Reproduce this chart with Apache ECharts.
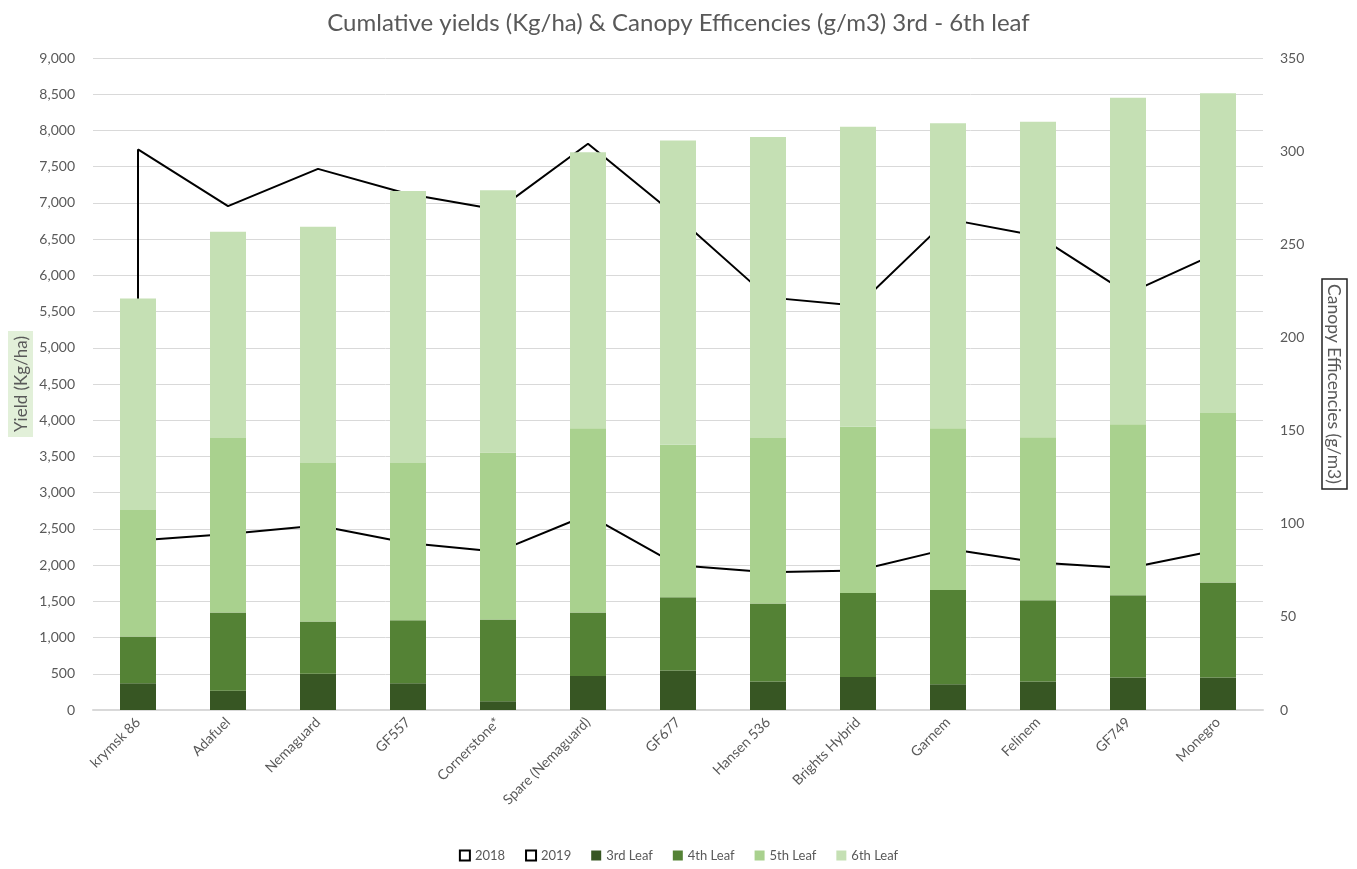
<!DOCTYPE html>
<html>
<head>
<meta charset="utf-8">
<script src="https://cdn.jsdelivr.net/npm/echarts@6/dist/echarts.min.js"></script>
<style>html,body{margin:0;padding:0;background:#fff;}#c{width:1357px;height:869px;}</style>
</head>
<body>
<div id="c"></div>
<script>
const categories = ['krymsk 86','Adafuel','Nemaguard','GF557','Cornerstone*','Spare (Nemaguard)','GF677','Hansen 536','Brights Hybrid','Garnem','Felinem','GF749','Monegro'];
const leaf3 = [370, 265, 500, 370, 120, 468, 545, 395, 455, 355, 395, 450, 450];
const leaf4 = [645, 1080, 720, 870, 1130, 877, 1010, 1075, 1160, 1300, 1120, 1135, 1310];
const leaf5 = [1745, 2410, 2190, 2170, 2305, 2545, 2105, 2285, 2295, 2235, 2250, 2360, 2340];
const leaf6 = [2920, 2845, 3260, 3755, 3620, 3810, 4200, 4155, 4140, 4210, 4355, 4505, 4415];
const eff2018 = [301, 270.5, 290.5, 277, 268.5, 304, 264.5, 221.5, 217, 263.5, 254.5, 223.5, 245.5];
const eff2019 = [91, 94.5, 99, 89.7, 85, 104.8, 77.7, 73.9, 74.9, 86.5, 79.2, 76.1, 85.9];
const yieldTicks = {min: 0, max: 9000, interval: 500};
const effTicks = {min: 0, max: 350, interval: 50};

const FONT = 'Lato, "Open Sans", sans-serif';
const TXT = '#595959';
const chart = echarts.init(document.getElementById('c'), null, {renderer: 'canvas'});

function barSeries(name, data, color) {
  return {name, type: 'bar', stack: 'y', data, barWidth: 36, z: 3,
    itemStyle: {color}, emphasis: {disabled: true}};
}
function lineSeries(name, data, extra) {
  return Object.assign({name, type: 'line', yAxisIndex: 1, data, z: 1, symbol: 'none', showSymbol: false,
    lineStyle: {color: '#000', width: 2}, itemStyle: {color: '#fff', borderColor: '#000'},
    emphasis: {disabled: true}}, extra || {});
}

chart.setOption({
  animation: false,
  textStyle: {fontFamily: FONT},
  title: {text: 'Cumlative yields (Kg/ha) & Canopy Efficencies (g/m3) 3rd - 6th leaf', left: 'center', top: 6,
    textStyle: {fontFamily: FONT, fontSize: 24, fontWeight: 'normal', color: TXT}},
  legend: {bottom: 2, left: 'center', itemWidth: 10, itemHeight: 10, itemGap: 20,
    textStyle: {fontFamily: FONT, fontSize: 13, color: TXT},
    data: [
      {name: '2018', icon: 'rect', itemStyle: {color: '#fff', borderColor: '#000', borderWidth: 2}},
      {name: '2019', icon: 'rect', itemStyle: {color: '#fff', borderColor: '#000', borderWidth: 2}},
      {name: '3rd Leaf', icon: 'rect'}, {name: '4th Leaf', icon: 'rect'},
      {name: '5th Leaf', icon: 'rect'}, {name: '6th Leaf', icon: 'rect'}
    ]},
  grid: {left: 93, right: 94, top: 58, bottom: 159, containLabel: false, outerBoundsMode: 'none'},
  xAxis: {type: 'category', data: categories,
    axisLine: {lineStyle: {color: '#D9D9D9', width: 2}}, axisTick: {show: false},
    axisLabel: {rotate: 45, margin: 10, fontSize: 14, color: TXT, fontFamily: FONT, interval: 0}},
  yAxis: [
    {type: 'value', min: yieldTicks.min, max: yieldTicks.max, interval: yieldTicks.interval,
      name: 'Yield (Kg/ha)', nameLocation: 'middle', nameRotate: 90, nameGap: 60, nameMoveOverlap: false,
      nameTextStyle: {fontFamily: FONT, fontSize: 17, color: TXT, backgroundColor: '#E2F0D9', padding: [5, 5, 3, 5]},
      axisLine: {show: false}, axisTick: {show: false},
      axisLabel: {margin: 18, fontSize: 14, color: TXT, fontFamily: FONT,
        formatter: v => v.toLocaleString('en-US')},
      splitLine: {lineStyle: {color: '#D9D9D9', width: 1}}},
    {type: 'value', min: effTicks.min, max: effTicks.max, interval: effTicks.interval,
      name: 'Canopy Efficencies (g/m3)', nameLocation: 'middle', nameRotate: -90, nameGap: 59, nameMoveOverlap: false,
      nameTextStyle: {fontFamily: FONT, fontSize: 17.5, color: TXT, borderColor: '#222', borderWidth: 1.5, padding: [4, 5, 3, 5]},
      axisLine: {show: false}, axisTick: {show: false},
      axisLabel: {margin: 17, fontSize: 14, color: TXT, fontFamily: FONT},
      splitLine: {show: false}}
  ],
  series: [
    lineSeries('2018', eff2018, {markLine: {silent: true, z: 1, symbol: ['none', 'none'], label: {show: false},
      lineStyle: {color: '#000', width: 2, type: 'solid'},
      data: [[{xAxis: 0, yAxis: eff2018[0]}, {xAxis: 0, yAxis: eff2019[0]}]]}}),
    lineSeries('2019', eff2019),
    barSeries('3rd Leaf', leaf3, '#375623'),
    barSeries('4th Leaf', leaf4, '#548235'),
    barSeries('5th Leaf', leaf5, '#A9D18E'),
    barSeries('6th Leaf', leaf6, '#C5E0B4')
  ]
});
</script>
</body>
</html>
